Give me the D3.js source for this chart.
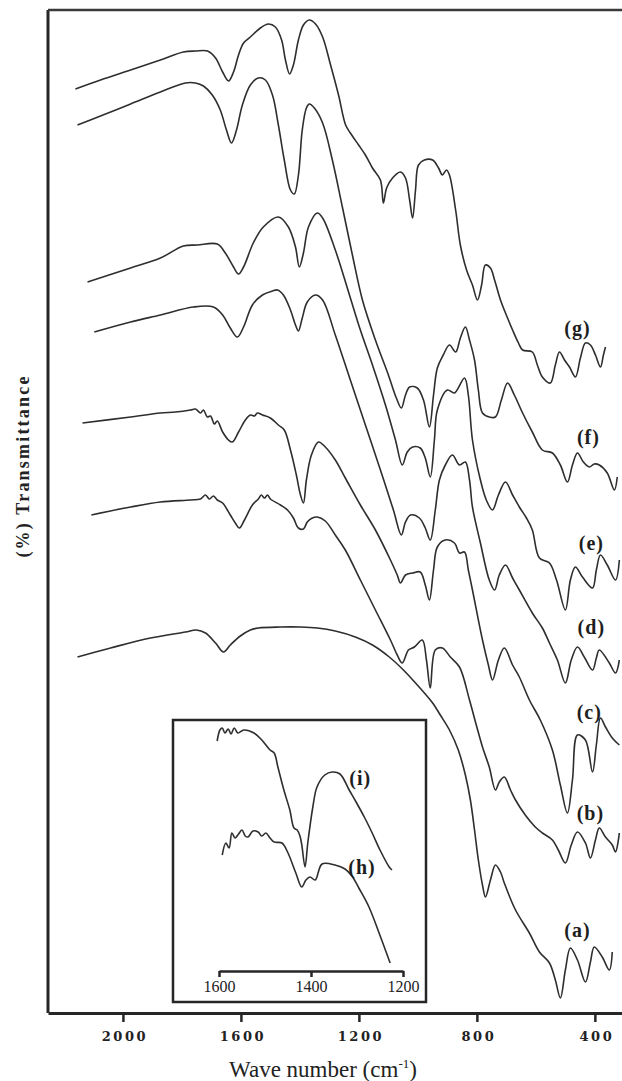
<!DOCTYPE html>
<html>
<head>
<meta charset="utf-8">
<script src="https://cdn.jsdelivr.net/npm/d3@7"></script>
<style>
  body { margin: 0; background: #fff; }
  svg { display: block; }
</style>
</head>
<body>
<svg id="canvas"></svg>
<script>
//--canvas dimensions and the frame of the plot
let width = 622;
let height = 1081;
let frameL = 48, frameR = 622, frameT = 10, frameB = 1013;
//--

//--tick labels
const xTicks = [2000, 1600, 1200, 800, 400];
const insetTicks = [1600, 1400, 1200];
//--

//--spectra, [wavenumber cm-1, transmittance (arbitrary, offset)]
const specA = [[2154,35.6],[2042,36.5],[1907,37.5],[1788,38.1],[1751,38.3],[1720,38.0],[1686,37.0],[1659,36.1],[1636,36.8],[1602,37.7],[1568,38.3],[1541,38.5],[1466,38.6],[1398,38.6],[1341,38.5],[1280,38.2],[1212,37.6],[1154,36.8],[1097,35.6],[1049,34.3],[1008,33.0],[975,31.9],[950,31.0],[924,29.8],[893,28.3],[863,26.3],[839,23.8],[822,21.3],[808,18.3],[795,15.3],[781,12.8],[771,11.6],[754,13.3],[737,14.8],[720,14.1],[707,13.0],[669,10.3],[622,8.0],[588,6.1],[554,5.0],[534,3.3],[517,1.5],[500,4.3],[483,6.5],[459,5.3],[432,3.1],[415,5.1],[402,6.6],[375,5.6],[351,4.3],[341,6.1]];

const specB = [[2107,49.8],[1974,50.6],[1873,51.1],[1771,51.3],[1737,51.4],[1720,51.8],[1707,51.4],[1693,51.7],[1680,51.3],[1662,51.0],[1636,49.8],[1619,49.0],[1605,48.5],[1588,49.3],[1561,50.8],[1541,51.4],[1531,51.8],[1520,51.5],[1510,51.8],[1500,51.4],[1466,50.8],[1442,50.3],[1422,49.5],[1405,48.5],[1388,48.4],[1375,49.1],[1358,49.5],[1341,49.6],[1314,49.2],[1280,47.8],[1246,46.3],[1195,43.3],[1144,40.3],[1093,37.3],[1070,35.8],[1053,35.0],[1032,36.3],[1012,36.6],[985,37.3],[971,35.3],[958,32.5],[941,36.3],[917,36.5],[890,35.6],[859,34.6],[825,31.3],[802,28.8],[781,26.6],[758,24.6],[737,22.3],[724,23.1],[707,23.6],[686,22.3],[669,21.3],[636,19.8],[602,18.6],[578,18.0],[544,17.3],[524,16.3],[500,15.0],[480,16.8],[459,18.1],[432,17.0],[415,15.5],[398,17.3],[385,18.5],[364,17.6],[341,16.8],[330,16.1],[317,18.0]];

const specC = [[2137,59.0],[1974,59.6],[1873,60.0],[1822,60.1],[1771,60.3],[1754,60.4],[1737,60.0],[1727,60.3],[1714,59.6],[1703,59.7],[1690,58.9],[1680,59.2],[1662,58.1],[1642,57.3],[1629,57.1],[1608,58.1],[1585,59.3],[1568,59.8],[1554,59.7],[1544,60.0],[1527,59.8],[1500,59.5],[1473,58.8],[1453,58.3],[1432,56.3],[1412,53.8],[1398,51.8],[1388,51.0],[1378,53.3],[1361,55.8],[1337,57.1],[1314,56.6],[1280,55.3],[1246,53.5],[1195,50.8],[1144,48.3],[1093,45.3],[1070,43.8],[1059,43.0],[1042,43.8],[1018,44.0],[992,44.1],[975,42.8],[961,41.3],[947,44.3],[934,46.6],[907,47.3],[876,47.0],[859,46.0],[842,46.1],[829,44.3],[815,42.3],[781,37.3],[761,34.8],[747,33.3],[727,35.3],[707,36.5],[679,34.8],[656,33.6],[622,31.3],[585,29.3],[544,26.3],[517,22.8],[493,20.0],[476,23.3],[459,27.8],[432,27.3],[408,24.1],[395,26.8],[381,29.5],[364,28.6],[341,27.5],[317,26.8]];

const specD = [[2097,68.1],[1974,69.1],[1873,69.8],[1761,70.6],[1693,70.6],[1662,69.8],[1636,68.5],[1612,67.6],[1591,68.6],[1561,70.8],[1527,71.8],[1493,72.2],[1476,72.3],[1456,71.8],[1432,70.3],[1415,68.8],[1405,68.2],[1392,69.5],[1375,71.1],[1347,71.8],[1323,71.3],[1280,67.8],[1229,63.3],[1178,58.8],[1127,54.3],[1083,50.3],[1056,47.8],[1042,49.1],[1025,49.8],[995,49.5],[975,48.5],[958,47.3],[941,50.3],[927,53.3],[907,54.8],[883,55.8],[859,54.8],[839,55.1],[825,53.3],[815,50.6],[788,47.0],[758,43.3],[740,42.3],[724,43.8],[703,44.8],[679,43.5],[656,42.3],[612,40.0],[578,38.5],[554,37.0],[527,35.3],[500,33.0],[480,35.3],[459,36.6],[436,35.6],[408,34.3],[395,35.5],[385,36.3],[351,35.0],[330,34.0],[317,35.3]];

const specE = [[2120,73.1],[1974,74.5],[1873,75.5],[1795,76.7],[1748,76.8],[1680,76.9],[1653,76.0],[1625,74.6],[1608,73.9],[1591,74.6],[1558,77.0],[1524,78.6],[1473,79.6],[1439,78.6],[1415,76.6],[1402,74.6],[1388,76.0],[1371,78.6],[1341,80.0],[1323,79.5],[1280,76.3],[1232,71.8],[1195,68.3],[1154,64.8],[1110,60.8],[1076,57.3],[1053,54.8],[1036,56.1],[1018,56.6],[992,56.5],[975,55.5],[958,53.6],[944,57.3],[934,60.3],[900,62.3],[876,62.0],[842,63.5],[829,61.8],[815,57.3],[788,53.3],[768,51.3],[747,50.3],[727,51.8],[703,53.1],[679,51.8],[656,50.6],[632,49.5],[612,48.3],[588,45.5],[554,45.0],[530,43.3],[500,40.3],[483,43.3],[466,44.6],[442,43.6],[408,42.5],[395,44.3],[381,45.8],[358,44.8],[330,43.3],[317,45.3]];

const specF = [[2154,88.8],[2076,89.7],[1974,90.9],[1873,92.1],[1788,93.0],[1754,93.0],[1727,92.7],[1697,91.8],[1670,90.3],[1649,88.3],[1632,87.0],[1615,88.3],[1595,90.8],[1568,92.8],[1541,93.5],[1517,93.3],[1493,91.8],[1473,88.8],[1453,85.3],[1432,82.3],[1419,81.9],[1405,83.8],[1392,88.3],[1378,90.5],[1368,90.9],[1351,90.5],[1323,89.0],[1290,85.3],[1256,80.6],[1222,75.8],[1188,71.3],[1144,67.3],[1100,63.8],[1073,61.5],[1056,60.5],[1042,61.8],[1028,62.6],[1002,62.5],[981,61.3],[961,58.6],[947,61.8],[934,64.5],[914,65.8],[893,66.8],[872,66.1],[856,67.5],[839,68.6],[825,67.3],[808,65.3],[795,62.3],[781,60.0],[758,59.6],[737,59.6],[717,61.3],[696,63.0],[673,61.8],[645,60.0],[612,58.1],[578,56.3],[544,56.0],[517,54.8],[493,53.1],[476,54.8],[459,56.0],[439,55.1],[419,54.6],[402,54.9],[385,54.8],[358,54.0],[334,52.3],[324,53.6]];

const specG = [[2161,92.4],[2076,93.3],[1974,94.3],[1873,95.3],[1795,96.1],[1754,96.2],[1713,96.2],[1686,95.5],[1662,94.1],[1642,93.2],[1625,94.1],[1608,95.8],[1591,97.0],[1568,97.6],[1534,98.5],[1507,98.9],[1483,98.6],[1462,97.3],[1449,95.3],[1435,93.9],[1422,94.8],[1405,97.3],[1388,98.8],[1368,99.3],[1347,98.9],[1323,97.6],[1296,94.8],[1269,91.8],[1245,88.8],[1229,88.0],[1201,86.8],[1178,85.8],[1154,84.5],[1127,83.3],[1117,81.0],[1106,82.5],[1086,83.5],[1059,84.1],[1042,83.5],[1028,81.3],[1018,79.5],[1008,82.3],[998,84.8],[978,85.3],[950,85.3],[930,84.5],[917,83.8],[903,84.3],[893,83.8],[872,80.3],[856,76.8],[835,74.3],[815,72.8],[798,71.3],[784,72.8],[771,74.8],[754,74.5],[740,73.3],[720,71.3],[696,69.5],[679,68.3],[659,67.0],[645,66.3],[612,66.1],[595,64.8],[578,63.6],[551,63.0],[534,64.8],[520,66.1],[503,65.3],[486,64.6],[466,63.6],[449,65.5],[432,67.0],[415,66.8],[398,65.8],[381,64.6],[371,65.8],[364,66.6]];

// inset (1600-1200 cm-1)
const specH = [[1593,46.0],[1585,50.8],[1578,48.8],[1572,54.8],[1565,52.8],[1559,54.0],[1550,56.0],[1543,53.6],[1537,53.2],[1526,55.6],[1515,55.2],[1507,53.6],[1498,54.8],[1489,52.8],[1480,51.2],[1463,50.8],[1450,46.8],[1433,38.8],[1420,33.2],[1411,36.0],[1402,37.2],[1391,36.0],[1376,42.4],[1348,42.0],[1326,40.4],[1311,37.6],[1296,32.8],[1274,25.2],[1252,14.8],[1228,2.8]];

const specI = [[1604,91.6],[1598,96.0],[1593,96.8],[1587,94.8],[1580,96.4],[1574,94.4],[1567,96.8],[1559,94.8],[1546,96.0],[1524,94.8],[1507,92.0],[1489,88.0],[1480,86.8],[1472,81.2],[1459,72.0],[1446,64.0],[1437,56.8],[1430,56.0],[1424,53.6],[1420,50.0],[1413,41.2],[1407,50.8],[1396,65.2],[1387,73.2],[1370,78.0],[1354,79.2],[1337,78.4],[1317,72.0],[1302,67.2],[1283,60.8],[1267,54.8],[1250,48.0],[1230,41.2],[1224,40.0]];
//--

//--series names and where their tags sit, [wavenumber, transmittance]
const mainSeries = [specA, specB, specC, specD, specE, specF, specG];
const mainNames = ["(a)", "(b)", "(c)", "(d)", "(e)", "(f)", "(g)"];
const mainTagAt = [[459,8.3],[415,20.0],[419,30.1],[412,38.6],[412,47.0],[422,57.6],[459,68.5]];
const insetSeries = [specH, specI];
const insetNames = ["(h)", "(i)"];
const insetTagAt = [[1289,41.2],[1293,76.8]];
//--

let canvas = d3.select("#canvas")
canvas.attr("width", width)
canvas.attr("height", height)

canvas.append('rect').attr('width', width).attr('height', height).attr('fill', '#fff')

//--scales
let x = d3.scaleLinear().domain([2254, 308]).range([frameL, frameR]);
let y = d3.scaleLinear().domain([0, 100]).range([frameB, 13]);

let ix = d3.scaleLinear().domain([1600, 1200]).range([219, 403]);
let iy = d3.scaleLinear().domain([0, 100]).range([970, 720]);
//--

let ink = '#262626';
let serif = "'Liberation Serif', 'Times New Roman', serif";

//--frame
canvas.append('line')
      .attr('x1', frameL).attr('x2', frameL)
      .attr('y1', frameT).attr('y2', frameB)
      .attr('stroke', ink).attr('stroke-width', 3)

canvas.append('line')
      .attr('x1', frameL).attr('x2', frameR)
      .attr('y1', frameT).attr('y2', frameT)
      .attr('stroke', '#3a3a3a').attr('stroke-width', 2.5)

let xAxis = canvas.append('g')
      .attr('transform', 'translate(0,' + frameB + ')')
      .call(d3.axisBottom(x).tickValues(xTicks).tickFormat(d3.format('d'))
              .tickSize(9).tickPadding(10).tickSizeOuter(0))

xAxis.select('.domain').attr('stroke', ink).attr('stroke-width', 3)
xAxis.selectAll('.tick line').attr('stroke', ink).attr('stroke-width', 2.5)
xAxis.selectAll('.tick text')
      .attr('fill', '#222')
      .attr('font-family', "'DejaVu Serif', serif")
      .attr('font-weight', 'bold')
      .attr('font-size', 13)
      .attr('letter-spacing', 2.5)
      .attr('dx', 1.5)
//--

//--spectra
let line = (sx, sy) => d3.line()
      .x(d => sx(d[0]))
      .y(d => sy(d[1]))
      .curve(d3.curveCatmullRom.alpha(0.5));

canvas.append('g')
      .selectAll('path')
      .data(mainSeries)
      .enter()
      .append('path')
      .attr('d', line(x, y))
      .attr('fill', 'none')
      .attr('stroke', '#2e2e2e')
      .attr('stroke-width', 1.6)
      .attr('stroke-linejoin', 'round')

canvas.append('g')
      .selectAll('text')
      .data(mainNames)
      .enter()
      .append('text')
      .attr('x', (d, i) => x(mainTagAt[i][0]))
      .attr('y', (d, i) => y(mainTagAt[i][1]))
      .attr('text-anchor', 'middle')
      .attr('dominant-baseline', 'central')
      .attr('font-family', serif)
      .attr('font-weight', 'bold')
      .attr('font-size', 20)
      .attr('letter-spacing', 1)
      .attr('fill', '#1e1e1e')
      .text(d => d)
//--

//--inset
canvas.append('rect')
      .attr('x', 173).attr('y', 720)
      .attr('width', 253).attr('height', 282)
      .attr('fill', '#fff')
      .attr('stroke', ink).attr('stroke-width', 2.5)

let inAxis = canvas.append('g')
      .attr('transform', 'translate(0,971)')
      .call(d3.axisBottom(ix).tickValues(insetTicks).tickFormat(d3.format('d'))
              .tickSize(6).tickPadding(4).tickSizeOuter(0))

inAxis.select('.domain').attr('stroke', ink).attr('stroke-width', 2.5)
inAxis.selectAll('.tick line').attr('stroke', ink).attr('stroke-width', 2.5)
inAxis.selectAll('.tick text')
      .attr('fill', '#222')
      .attr('font-family', serif)
      .attr('font-size', 16)

canvas.append('g')
      .selectAll('path')
      .data(insetSeries)
      .enter()
      .append('path')
      .attr('d', line(ix, iy))
      .attr('fill', 'none')
      .attr('stroke', '#2e2e2e')
      .attr('stroke-width', 1.6)
      .attr('stroke-linejoin', 'round')

canvas.append('g')
      .selectAll('text')
      .data(insetNames)
      .enter()
      .append('text')
      .attr('x', (d, i) => ix(insetTagAt[i][0]))
      .attr('y', (d, i) => iy(insetTagAt[i][1]))
      .attr('text-anchor', 'middle')
      .attr('dominant-baseline', 'central')
      .attr('font-family', serif)
      .attr('font-weight', 'bold')
      .attr('font-size', 20)
      .attr('letter-spacing', 1)
      .attr('fill', '#1e1e1e')
      .text(d => d)
//--

//--axis titles
let xTitle = canvas.append('text')
      .attr('x', 323).attr('y', 1077)
      .attr('text-anchor', 'middle')
      .attr('font-family', serif)
      .attr('font-size', 23)
      .attr('fill', '#222')
xTitle.append('tspan').text('Wave number (cm')
xTitle.append('tspan').attr('dy', -9).attr('font-size', 13).text('-1')
xTitle.append('tspan').attr('dy', 9).text(')')

canvas.append('text')
      .attr('transform', 'translate(29,466) rotate(-90)')
      .attr('text-anchor', 'middle')
      .attr('font-family', serif)
      .attr('font-weight', 'bold')
      .attr('font-size', 18)
      .attr('letter-spacing', 2.2)
      .attr('fill', '#222')
      .text('(%) Transmittance')
//--
</script>
</body>
</html>
